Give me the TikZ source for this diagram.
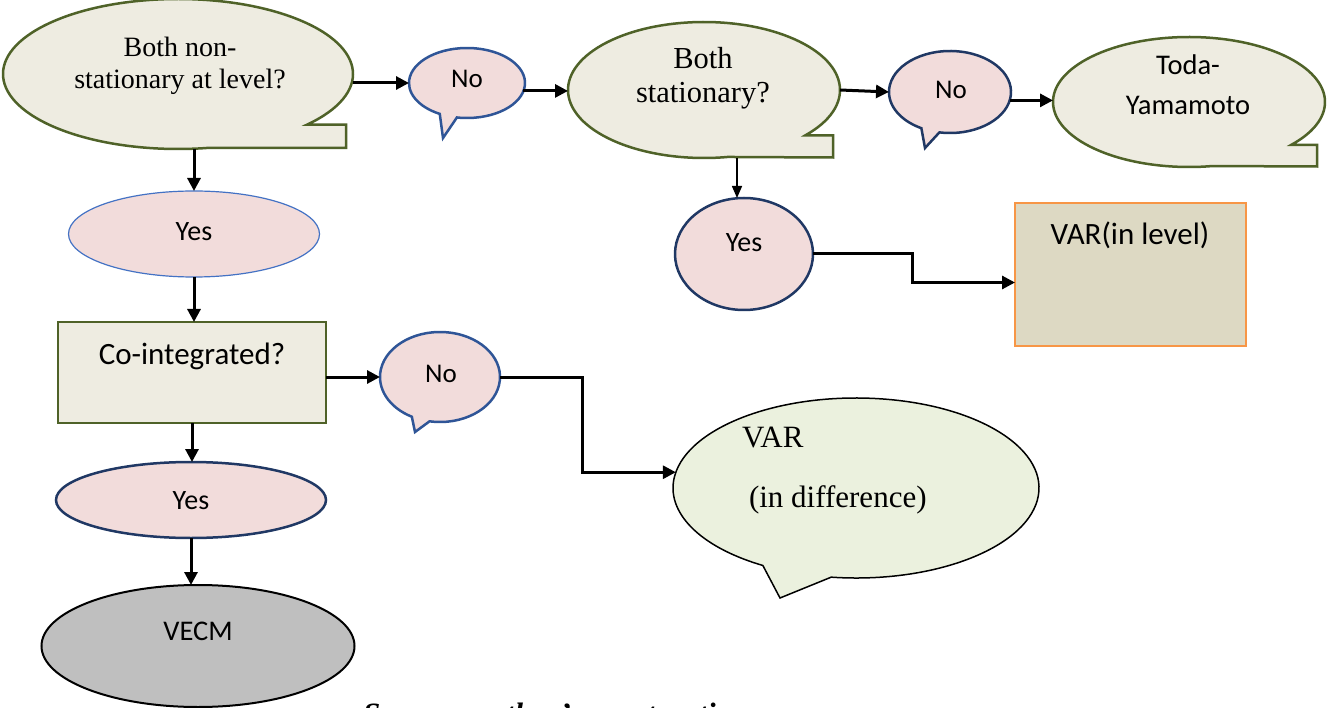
\documentclass[tikz,border=0pt]{standalone}
\usepackage{fontspec}
\setmainfont{Liberation Serif}
\newfontfamily\calfont{Carlito}
\usetikzlibrary{shapes.geometric,arrows.meta,calc}
\definecolor{bubfill}{HTML}{EEECE1}
\definecolor{bubedge}{HTML}{4F6228}
\definecolor{pinkfill}{HTML}{F2DCDB}
\definecolor{navy}{HTML}{203864}
\definecolor{midblue}{HTML}{2F5597}
\definecolor{lightblue}{HTML}{4472C4}
\definecolor{lvlfill}{HTML}{DDD9C3}
\definecolor{orangeedge}{HTML}{F79646}
\definecolor{difffill}{HTML}{EBF1DE}
\definecolor{grayfill}{HTML}{BFBFBF}
\begin{document}
\begin{tikzpicture}[x=1pt,y=1pt,
  shp/.style={inner sep=0pt, outer sep=0pt},
  ell/.style={shp, ellipse},
  bub/.style={fill=bubfill, draw=bubedge, line width=2.5pt},
  pinkb/.style={fill=pinkfill, line width=2.5pt},
  arr/.style={line width=3pt, -{Triangle[length=13pt,width=13pt]}},
  thinarr/.style={line width=1.5pt, -{Triangle[length=12pt,width=10pt]}},
  txt/.style={shp, anchor=base},
  ser/.style={shp, align=center},
]
\fill[white] (0,0) rectangle (1327,-708);
\useasboundingbox (0,0) rectangle (1327,-708);

% ---- Bubble A
\node[ell, minimum width=350pt, minimum height=150pt] (A) at (178,-74) {};
\path[bub] (A.center) ++(-42.5:175pt and 75pt)
  arc[start angle=-42.5, end angle=280, x radius=175pt, y radius=75pt]
  -- (346,-148) -- (346,-124.7) -- cycle;
\node[ser, font=\fontsize{28}{32}\selectfont] (At) at (180,-65.5) {Both non-\\stationary at level?};

% ---- Bubble B
\node[ell, minimum width=272pt, minimum height=136pt] (B) at (704,-90) {};
\path[bub] (B.center) ++(-41.8:136pt and 68pt)
  arc[start angle=-41.8, end angle=280, x radius=136pt, y radius=68pt]
  -- (833,-157.5) -- (833,-135.3) -- cycle;
\node[ser, font=\fontsize{30.5}{34}\selectfont] (Bt) at (703,-78) {Both\\stationary?};

% ---- Bubble C
\node[ell, minimum width=272pt, minimum height=130pt] (C) at (1189,-102) {};
\path[bub] (C.center) ++(-41.2:136pt and 65pt)
  arc[start angle=-41.2, end angle=280, x radius=136pt, y radius=65pt]
  -- (1317,-166.5) -- (1317,-144.8) -- cycle;
\node[ser, font=\calfont\fontsize{28.5}{40}\selectfont] (Ct) at (1188,-84.5) {Toda-\\Yamamoto};

% ---- No bubbles
\node[ell, minimum width=116pt, minimum height=70pt] (N1) at (467,-83) {};
\path[pinkb, draw=midblue] (N1.center) ++(-100:58pt and 35pt)
  arc[start angle=-100, end angle=242, x radius=58pt, y radius=35pt] -- (443,-138) -- cycle;
\node[txt, font=\calfont\fontsize{27}{30}\selectfont] (N1t) at (467,-88) {No};

\node[ell, minimum width=122pt, minimum height=82pt] (N2) at (950,-92) {};
\path[pinkb, draw=navy] (N2.center) ++(-100:61pt and 41pt)
  arc[start angle=-100, end angle=242, x radius=61pt, y radius=41pt] -- (925,-148) -- cycle;
\node[txt, font=\calfont\fontsize{27}{30}\selectfont] (N2t) at (951,-98.7) {No};

\node[ell, minimum width=120pt, minimum height=90pt] (N3) at (440,-377) {};
\path[pinkb, draw=midblue] (N3.center) ++(-100:60pt and 45pt)
  arc[start angle=-100, end angle=242, x radius=60pt, y radius=45pt] -- (415,-432) -- cycle;
\node[txt, font=\calfont\fontsize{27}{30}\selectfont] (N3t) at (441,-382) {No};

% ---- Yes ellipses
\node[ell, draw=lightblue, fill=pinkfill, line width=1.2pt, minimum width=251pt, minimum height=86pt] (Y1) at (194,-234) {};
\node[txt, font=\calfont\fontsize{28}{30}\selectfont] (Y1t) at (194,-240.5) {Yes};

\node[ell, draw=navy, fill=pinkfill, line width=2.5pt, minimum width=270pt, minimum height=76pt] (Y2) at (191,-500) {};
\node[txt, font=\calfont\fontsize{28}{30}\selectfont] (Y2t) at (191,-509) {Yes};

\node[ell, draw=navy, fill=pinkfill, line width=2.5pt, minimum width=138pt, minimum height=112pt] (Y3) at (744,-254) {};
\node[txt, font=\calfont\fontsize{28}{30}\selectfont] (Y3t) at (744,-251.5) {Yes};

% ---- Co-integrated box
\node[shp, draw=bubedge, fill=bubfill, line width=2.5pt, minimum width=268pt, minimum height=101pt] (CI) at (192,-372.5) {};
\node[txt, font=\calfont\fontsize{31}{34}\selectfont] (CIt) at (192,-364) {Co-integrated?};

% ---- VAR in level box
\node[shp, draw=orangeedge, fill=lvlfill, line width=1.5pt, minimum width=231pt, minimum height=143pt] (VL) at (1130.5,-274.5) {};
\node[txt, font=\calfont\fontsize{31}{34}\selectfont] (VLt) at (1130,-245) {VAR(in level)};

% ---- VAR in difference bubble
\node[ell, minimum width=366pt, minimum height=180pt] (VD) at (856,-488) {};
\path[fill=difffill, draw=black, line width=1.5pt] (VD.center) ++(-97.8:183pt and 90pt)
  arc[start angle=-97.8, end angle=239.4, x radius=183pt, y radius=90pt] -- (780,-598) -- cycle;
\node[shp, anchor=base west, font=\fontsize{31}{34}\selectfont] (VDt1) at (742,-447) {VAR};
\node[shp, anchor=base west, font=\fontsize{31}{34}\selectfont] (VDt2) at (749,-507) {(in difference)};

% ---- VECM
\node[ell, draw=black, fill=grayfill, line width=2pt, minimum width=313pt, minimum height=122pt] (VE) at (198,-646) {};
\node[txt, font=\calfont\fontsize{28.5}{30}\selectfont] (VEt) at (198,-640) {VECM};

% ---- connectors
\draw[arr] (A.east |- N1.west) -- (N1.west);
\draw[arr] (N1.-8) -- (N1.-8 -| B.west);
\draw[arr] (B.east) -- (N2.west);
\draw[arr] (N2.-8) -- (N2.-8 -| C.west);
\draw[arr] (Y1.north |- A.south) -- (Y1.north);
\draw[arr] (Y1.south) -- (Y1.south |- CI.north);
\draw[arr] (CI.east |- N3.west) -- (N3.west);
\draw[arr] (N3.east) -- ++(82,0) |- (VD.175);
\draw[arr] (CI.south) -- (CI.south |- Y2.north);
\draw[arr] (Y2.south) -- (Y2.south |- VE.north);
\draw[thinarr] ($(Y3.north |- B.south)+(-7,0)$) -- ($(Y3.north)+(-7,0)$);
\draw[arr] (Y3.east) -- ++(99,0) |- ($(VL.west)+(0,-8)$);

% ---- caption (cut by the lower edge, as in the reference)
\node[shp, anchor=base west, font=\bfseries\itshape\fontsize{31}{36}\selectfont] (src) at (363,-724) {Source: author's construction};
\end{tikzpicture}
\end{document}
